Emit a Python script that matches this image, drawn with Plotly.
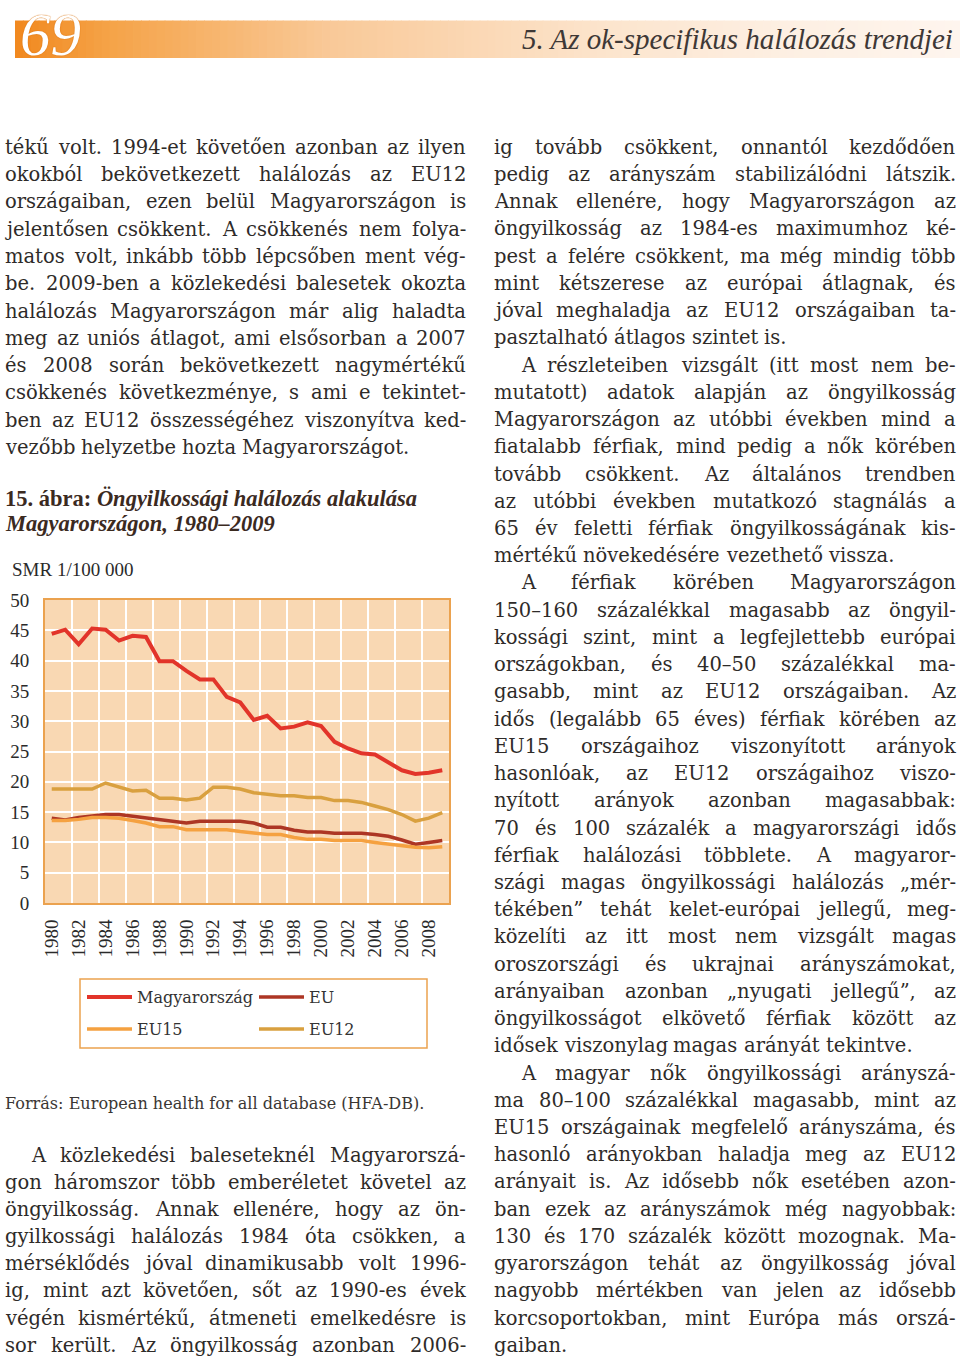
import os, struct
import plotly.graph_objects as go

# ---------------- data ----------------
years = list(range(1980, 2010))
magyarorszag = [44.4, 45.1, 42.7, 45.3, 45.1, 43.3, 44.1, 43.9, 39.9, 39.9,
                38.3, 36.9, 36.9, 34.0, 33.1, 30.2, 30.9, 28.8, 29.1, 29.8,
                29.2, 26.6, 25.5, 24.7, 24.5, 23.2, 21.9, 21.3, 21.5, 21.9]
eu = [14.0, 13.7, 14.1, 14.4, 14.6, 14.6, 14.3, 14.0, 13.7, 13.5,
      13.2, 13.5, 13.5, 13.5, 13.5, 13.2, 12.5, 12.5, 12.0, 11.7,
      11.7, 11.5, 11.5, 11.5, 11.3, 11.0, 10.4, 9.7, 10.0, 10.3]
eu15 = [13.6, 13.6, 13.8, 14.1, 14.1, 14.0, 13.6, 13.2, 12.6, 12.6,
        12.1, 12.1, 12.1, 12.1, 11.8, 11.5, 11.3, 11.3, 10.8, 10.5,
        10.5, 10.3, 10.3, 10.3, 10.0, 9.7, 9.5, 9.2, 9.1, 9.3]
eu12 = [18.8, 18.8, 18.8, 18.8, 19.8, 19.1, 18.5, 18.6, 17.3, 17.3,
        17.0, 17.3, 19.1, 19.1, 18.8, 18.2, 18.0, 17.7, 17.7, 17.4,
        17.4, 16.9, 16.9, 16.6, 16.0, 15.4, 14.6, 13.5, 14.0, 14.9]
series_names = ["Magyarország", "EU", "EU15", "EU12"]
x_tick_years = list(range(1980, 2009, 2))
y_ticks = list(range(0, 51, 5))

header_number = "69"
header_title = "5. Az ok-specifikus halálozás trendjei"
y_title = "SMR 1/100 000"
caption_1 = "15. ábra:"
caption_1b = "Öngyilkossági halálozás alakulása"
caption_2 = "Magyarországon, 1980–2009"
source = "Forrás: European health for all database (HFA-DB)."

left_top = [
    "tékű volt. 1994-et követően azonban az ilyen",
    "okokból bekövetkezett halálozás az EU12",
    "országaiban, ezen belül Magyarországon is",
    "jelentősen csökkent. A csökkenés nem folya-",
    "matos volt, inkább több lépcsőben ment vég-",
    "be. 2009-ben a közlekedési balesetek okozta",
    "halálozás Magyarországon már alig haladta",
    "meg az uniós átlagot, ami elsősorban a 2007",
    "és 2008 során bekövetkezett nagymértékű",
    "csökkenés következménye, s ami e tekintet-",
    "ben az EU12 összességéhez viszonyítva ked-",
    "vezőbb helyzetbe hozta Magyarországot.",
]
left_bottom = [
    "A közlekedési baleseteknél Magyarorszá-",
    "gon háromszor több emberéletet követel az",
    "öngyilkosság. Annak ellenére, hogy az ön-",
    "gyilkossági halálozás 1984 óta csökken, a",
    "mérséklődés jóval dinamikusabb volt 1996-",
    "ig, mint azt követően, sőt az 1990-es évek",
    "végén kismértékű, átmeneti emelkedésre is",
    "sor került. Az öngyilkosság azonban 2006-",
]
right_col = [
    "ig tovább csökkent, onnantól kezdődően",
    "pedig az arányszám stabilizálódni látszik.",
    "Annak ellenére, hogy Magyarországon az",
    "öngyilkosság az 1984-es maximumhoz ké-",
    "pest a felére csökkent, ma még mindig több",
    "mint kétszerese az európai átlagnak, és",
    "jóval meghaladja az EU12 országaiban ta-",
    "pasztalható átlagos szintet is.",
    "A részleteiben vizsgált (itt most nem be-",
    "mutatott) adatok alapján az öngyilkosság",
    "Magyarországon az utóbbi években mind a",
    "fiatalabb férfiak, mind pedig a nők körében",
    "tovább csökkent. Az általános trendben",
    "az utóbbi években mutatkozó stagnálás a",
    "65 év feletti férfiak öngyilkosságának kis-",
    "mértékű növekedésére vezethető vissza.",
    "A férfiak körében Magyarországon",
    "150–160 százalékkal magasabb az öngyil-",
    "kossági szint, mint a legfejlettebb európai",
    "országokban, és 40–50 százalékkal ma-",
    "gasabb, mint az EU12 országaiban. Az",
    "idős (legalább 65 éves) férfiak körében az",
    "EU15 országaihoz viszonyított arányok",
    "hasonlóak, az EU12 országaihoz viszo-",
    "nyított arányok azonban magasabbak:",
    "70 és 100 százalék a magyarországi idős",
    "férfiak halálozási többlete. A magyaror-",
    "szági magas öngyilkossági halálozás „mér-",
    "tékében” tehát kelet-európai jellegű, meg-",
    "közelíti az itt most nem vizsgált magas",
    "oroszországi és ukrajnai arányszámokat,",
    "arányaiban azonban „nyugati jellegű”, az",
    "öngyilkosságot elkövető férfiak között az",
    "idősek viszonylag magas arányát tekintve.",
    "A magyar nők öngyilkossági arányszá-",
    "ma 80–100 százalékkal magasabb, mint az",
    "EU15 országainak megfelelő arányszáma, és",
    "hasonló arányokban haladja meg az EU12",
    "arányait is. Az idősebb nők esetében azon-",
    "ban ezek az arányszámok még nagyobbak:",
    "130 és 170 százalék között mozognak. Ma-",
    "gyarországon tehát az öngyilkosság jóval",
    "nagyobb mértékben van jelen az idősebb",
    "korcsoportokban, mint Európa más orszá-",
    "gaiban.",
]
right_indent = {8, 16, 34}
right_ragged = {7, 15, 33, 44}

# ---------------- font metrics ----------------
def find_font(name):
    for root in ["/usr/share/fonts", "/usr/local/share/fonts", os.path.expanduser("~/.fonts")]:
        if not os.path.isdir(root):
            continue
        for dp, dn, fn in os.walk(root):
            if name in fn:
                return os.path.join(dp, name)
    return None

FALLBACK = {' ': 0.318, 'i': 0.32, 'l': 0.32, 'j': 0.32, 't': 0.402, 'f': 0.371,
            'r': 0.478, 's': 0.513, 'm': 0.954, 'w': 0.824, '.': 0.318, ',': 0.318,
            '-': 0.338, '(': 0.39, ')': 0.39, ':': 0.337, 'M': 0.863, 'I': 0.372}

def load_widths(path):
    try:
        with open(path, 'rb') as f:
            data = f.read()
        n = struct.unpack('>H', data[4:6])[0]
        tables = {}
        for i in range(n):
            tag, cs, off, ln = struct.unpack('>4sIII', data[12 + 16 * i:28 + 16 * i])
            tables[tag.decode('latin1')] = off
        head = tables['head']
        upem = struct.unpack('>H', data[head + 18:head + 20])[0]
        hhea = tables['hhea']
        numh = struct.unpack('>H', data[hhea + 34:hhea + 36])[0]
        hmtx = tables['hmtx']
        adv = [struct.unpack('>H', data[hmtx + 4 * i:hmtx + 4 * i + 2])[0] for i in range(numh)]
        cmap = tables['cmap']
        nsub = struct.unpack('>H', data[cmap + 2:cmap + 4])[0]
        sub = None
        for i in range(nsub):
            pid, eid, off = struct.unpack('>HHI', data[cmap + 4 + 8 * i:cmap + 12 + 8 * i])
            fmt = struct.unpack('>H', data[cmap + off:cmap + off + 2])[0]
            if pid == 3 and eid == 1 and fmt == 4:
                sub = cmap + off
        segx2 = struct.unpack('>H', data[sub + 6:sub + 8])[0]
        seg = segx2 // 2
        ends = struct.unpack('>%dH' % seg, data[sub + 14:sub + 14 + segx2])
        starts = struct.unpack('>%dH' % seg, data[sub + 16 + segx2:sub + 16 + 2 * segx2])
        deltas = struct.unpack('>%dh' % seg, data[sub + 16 + 2 * segx2:sub + 16 + 3 * segx2])
        rpos = sub + 16 + 3 * segx2
        roffs = struct.unpack('>%dH' % seg, data[rpos:rpos + segx2])

        def gid(c):
            for i in range(seg):
                if ends[i] >= c:
                    if starts[i] > c:
                        return 0
                    if roffs[i] == 0:
                        return (c + deltas[i]) & 0xFFFF
                    p = rpos + 2 * i + roffs[i] + 2 * (c - starts[i])
                    g = struct.unpack('>H', data[p:p + 2])[0]
                    return (g + deltas[i]) & 0xFFFF if g else 0
            return 0
        cache = {}

        def w(ch):
            if ch not in cache:
                g = gid(ord(ch))
                cache[ch] = adv[min(g, numh - 1)] / upem
            return cache[ch]
        w('a')
        return w
    except Exception:
        return None

_w = None
_p = find_font("DejaVuSerif.ttf")
if _p:
    _w = load_widths(_p)
if _w is None:
    def _w(ch):
        if ch in FALLBACK:
            return FALLBACK[ch]
        if ch.isdigit():
            return 0.636
        if ch.isupper():
            return 0.72
        return 0.6

def measure(s):
    return sum(_w(c) for c in s)

# ---------------- geometry helpers ----------------
PL, PR, PT, PB = 45, 449, 600, 903
PW, PH = PR - PL, PB - PT
W, H = 960, 1361

def xp(px):
    return (px - PL) / PW

def yp(py):
    return (PB - py) / PH

BODY_FONT = "DejaVu Serif"
BODY_COLOR = "#2e2b29"
annotations = []
shapes = []

def add_text(px, py, text, size, family, color, anchor="left", **kw):
    annotations.append(dict(x=xp(px), y=yp(py), xref="paper", yref="paper", text=text,
                            showarrow=False, xanchor=anchor, yanchor="middle",
                            borderpad=0, borderwidth=0,
                            font=dict(family=family, size=size, color=color, **kw)))

def place_line(text, x0, x1, baseline, size, justify, indent=0):
    words = text.split(' ')
    widths = [measure(w) * size for w in words]
    left = x0 + indent
    if justify and len(words) > 1:
        gap = (x1 - left - sum(widths)) / (len(words) - 1)
    else:
        gap = _w(' ') * size
    cy = baseline - 0.346 * size
    x = left
    for i, (wd, ww) in enumerate(zip(words, widths)):
        if justify and len(words) > 1 and i == len(words) - 1:
            add_text(x1, cy, wd, size, BODY_FONT, BODY_COLOR, anchor="right")
        else:
            add_text(x, cy, wd, size, BODY_FONT, BODY_COLOR, anchor="left")
        x += ww + gap

# choose body size so that all justified lines fit
BODY_SIZE = 19.5
ratios = []
for t in left_top[:-1] + left_bottom:
    ratios.append(461.0 / (measure(t)))
for i, t in enumerate(right_col):
    if i not in right_ragged:
        ind = 27 if i in right_indent else 0
        ratios.append((462.0 - ind) / measure(t))
BODY_SIZE = min(BODY_SIZE, 0.995 * min(ratios))

# left column top
for i, t in enumerate(left_top):
    place_line(t, 5, 466, 154 + 27.3 * i, BODY_SIZE, justify=(i != len(left_top) - 1))
# left column bottom
for i, t in enumerate(left_bottom):
    place_line(t, 5, 466, 1162 + 27.14 * i, BODY_SIZE, justify=True, indent=(26 if i == 0 else 0))
# right column
for i, t in enumerate(right_col):
    place_line(t, 494, 956, 154 + 27.23 * i, BODY_SIZE, justify=(i not in right_ragged),
               indent=(27 if i in right_indent else 0))

# source line
src_size = 422.0 / measure(source)
add_text(5, 1109 - 0.346 * src_size, source, src_size, BODY_FONT, "#3a3633")

# caption
CAP_COLOR = "#3b2a1f"
CAP_SIZE = 22.5
add_text(5, 506 - 0.34 * CAP_SIZE, "<b>" + caption_1 + " <i>" + caption_1b + "</i></b>", CAP_SIZE,
         "Liberation Serif", CAP_COLOR)
add_text(5, 531 - 0.34 * CAP_SIZE, "<b><i>" + caption_2 + "</i></b>", CAP_SIZE,
         "Liberation Serif", CAP_COLOR)

# axis title
add_text(12, 576 - 6.4, y_title, 19, "Liberation Serif", "#2a2a2a")

# header gradient bar
stops = [(15, (241, 136, 30)), (110, (245, 163, 72)), (330, (249, 201, 152)),
         (600, (252, 228, 204)), (780, (253, 239, 226)), (960, (254, 245, 238))]

def grad(x):
    for (xa, ca), (xb, cb) in zip(stops[:-1], stops[1:]):
        if xa <= x <= xb:
            t = (x - xa) / (xb - xa)
            return "rgb(%d,%d,%d)" % tuple(round(a + (b - a) * t) for a, b in zip(ca, cb))
    return "rgb(%d,%d,%d)" % stops[-1][1]

N = 120
sw = (960 - 15) / N
for k in range(N):
    xa = 15 + k * sw
    shapes.append(dict(type="rect", xref="paper", yref="paper", x0=xp(xa), x1=xp(xa + sw + 0.8),
                       y0=yp(58), y1=yp(20.5), fillcolor=grad(xa + sw / 2), line=dict(width=0),
                       layer="below"))

NUM_SIZE = 61
add_text(50, 55.5 - 0.3375 * NUM_SIZE, "<i>" + header_number + "</i>", NUM_SIZE,
         "Liberation Serif", "white", anchor="center",
         shadow="0px 0px 1px #d9730f, 0px 0px 1px #d9730f")
add_text(953, 49 - 0.3375 * 29, "<i>" + header_title + "</i>", 29, "Liberation Serif", "#3e3836",
         anchor="right")

# legend box
shapes.append(dict(type="rect", xref="paper", yref="paper", x0=xp(80), x1=xp(427),
                   y0=yp(1048), y1=yp(979), line=dict(color="#eba24f", width=1.5),
                   fillcolor="rgba(0,0,0,0)"))

# ---------------- traces ----------------
colors = ["#e2342a", "#ad3624", "#f5a140", "#d9a03f"]
widths = [4, 3.5, 3.5, 3.5]
values = [magyarorszag, eu, eu15, eu12]
legends = ["legend", "legend", "legend2", "legend2"]

fig = go.Figure()
for name, vals, c, lw, lg in zip(series_names, values, colors, widths, legends):
    fig.add_trace(go.Scatter(x=years, y=vals, mode="lines", name=name,
                             line=dict(color=c, width=lw), legend=lg, hoverinfo="skip"))

leg_common = dict(orientation="h", xanchor="left", yanchor="middle", bgcolor="rgba(0,0,0,0)",
                  borderwidth=0, entrywidth=112, entrywidthmode="pixels", itemwidth=45,
                  font=dict(family=BODY_FONT, size=16, color="#333"), traceorder="normal")

fig.update_layout(
    width=W, height=H,
    margin=dict(l=PL, r=W - PR, t=PT, b=H - PB, autoexpand=False),
    paper_bgcolor="white",
    plot_bgcolor="#f9d8b3",
    showlegend=True,
    legend=dict(x=xp(82), y=yp(997), **leg_common),
    legend2=dict(x=xp(82), y=yp(1029), **leg_common),
    annotations=annotations,
    shapes=shapes,
    xaxis=dict(range=[1979.5, 2009.5], tickmode="array", tickvals=x_tick_years,
               ticktext=[str(v) for v in x_tick_years], tickangle=-90, showgrid=False,
               ticks="", ticklabelstandoff=7, zeroline=False,
               tickfont=dict(family="Liberation Serif", size=19, color="#2a2a2a"),
               showline=True, mirror=True, linecolor="#eba24f", linewidth=2,
               minor=dict(tick0=1979.5, dtick=2, showgrid=True, gridcolor="white", gridwidth=2,
                          ticks="")),
    yaxis=dict(range=[0, 50], tickmode="array", tickvals=y_ticks, showgrid=True,
               gridcolor="white", gridwidth=2, zeroline=False, ticks="", ticklabelstandoff=10,
               tickfont=dict(family="Liberation Serif", size=19, color="#2a2a2a"),
               showline=True, mirror=True, linecolor="#eba24f", linewidth=2),
)

fig.write_html("out.html", config={"displayModeBar": False},
               post_script="document.body.style.margin='0';document.body.style.overflow='hidden';")
